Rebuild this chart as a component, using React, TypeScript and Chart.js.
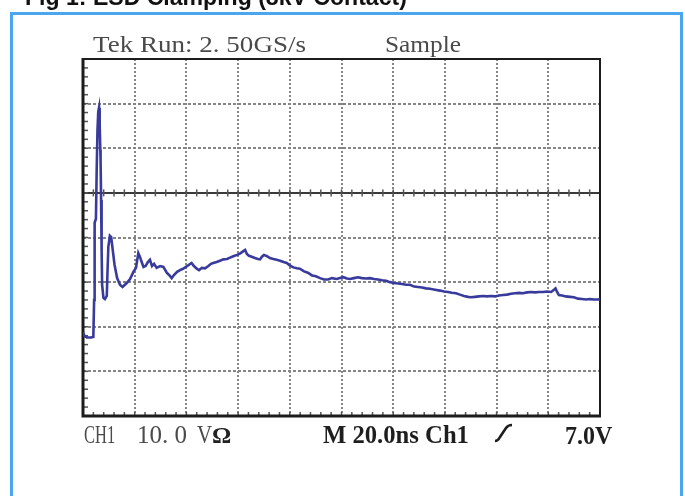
import React, { useEffect, useLayoutEffect, useRef } from 'react';
import { Chart, registerables } from 'chart.js';

Chart.register(...registerables);

// ---- data (time in ns, voltage in V; 20 ns/div, 10 V/div) ----
const timeNs = [
  0, 0.6, 1.5, 3.1, 4.0, 4.3, 4.4, 4.6, 5.0, 5.3, 5.6, 5.9, 6.2, 6.4, 6.5, 6.7, 6.8, 7.0, 7.2, 7.4,
  7.9, 8.5, 9.2, 9.5, 9.8, 10.4, 10.9, 11.4, 12.2, 13.2, 14.3, 15.3, 16.9, 18.2, 19.5, 20.5, 21.4,
  22.0, 22.7, 23.4, 24.2, 25.1, 25.9, 26.7, 27.5, 28.5, 29.8, 31.1, 32.4, 33.3, 34.3, 35.2, 36.4,
  37.5, 38.7, 39.8, 41.0, 42.0, 42.9, 44.0, 44.9, 46.0, 47.2, 48.5, 49.5, 50.4, 51.7, 53.0, 54.3,
  55.7, 56.9, 58.1, 59.6, 60.7, 61.9, 62.7, 63.4, 64.2, 65.3, 66.5, 67.7, 68.5, 69.2, 70.0, 71.2,
  72.3, 73.6, 74.9, 76.2, 77.6, 78.8, 80.1, 81.4, 82.7, 83.9, 85.5, 87.0, 88.6, 90.1, 91.7, 93.2,
  94.8, 96.3, 98.1, 99.4, 100.7, 102.1, 103.3, 104.8, 106.4, 107.9, 109.5, 111.0, 112.6, 114.1,
  115.7, 117.2, 118.8, 120.3, 121.9, 123.4, 125.0, 126.5, 128.1, 129.6, 131.1, 132.7, 134.2, 136.2,
  138.1, 139.7, 141.2, 142.7, 144.3, 145.8, 147.4, 148.9, 150.1, 151.6, 153.2, 154.7, 156.3, 157.8,
  159.4, 160.9, 162.5, 164.0, 165.6, 167.1, 168.7, 170.2, 171.8, 173.3, 174.9, 176.4, 178.0, 179.5,
  181.1, 182.2, 182.8, 183.4, 184.1, 185.3, 186.8, 188.4, 189.9, 191.5, 193.0, 194.6, 196.1, 197.7,
  199.2, 200,
];
const voltsV = [
  -31.2, -32.1, -32.4, -32.4, -32.3, -24.0, -10.5, -6.7, -5.8, 5.2, 14.1, 18.2, 19.1, 17.9, 15.2, 9.6,
  7.4, -1.6, -12.8, -20.6, -23.5, -23.8, -23.1, -17.3, -12.1, -9.6, -9.9, -12.3, -16.1, -19.1, -20.6,
  -21.1, -20.2, -19.3, -17.7, -16.8, -13.5, -14.3, -15.5, -16.6, -16.4, -15.5, -15.0, -16.4, -15.9,
  -16.8, -16.4, -16.6, -17.9, -18.4, -19.1, -18.4, -17.7, -17.3, -17.0, -16.6, -16.1, -15.7, -16.4,
  -17.0, -17.3, -16.8, -16.9, -16.4, -15.9, -15.7, -15.5, -15.2, -14.9, -14.8, -14.5, -14.2, -13.9,
  -13.6, -13.1, -12.8, -13.7, -14.1, -14.3, -14.6, -14.8, -14.9, -14.3, -13.9, -14.2, -14.6, -14.8,
  -15.0, -15.2, -15.5, -15.7, -16.3, -16.7, -16.9, -17.0, -17.6, -17.9, -18.5, -18.7, -19.1, -19.4,
  -19.4, -19.1, -19.3, -19.1, -18.9, -19.2, -19.3, -19.1, -18.9, -19.1, -19.2, -19.1, -19.3, -19.4,
  -19.6, -19.7, -20.0, -20.2, -20.3, -20.4, -20.6, -20.6, -21.0, -21.1, -21.2, -21.4, -21.5, -21.7,
  -21.9, -22.1, -22.2, -22.4, -22.5, -22.8, -23.1, -23.3, -23.4, -23.3, -23.2, -23.1, -23.2, -23.1,
  -23.2, -23.0, -22.9, -22.8, -22.6, -22.5, -22.4, -22.5, -22.3, -22.2, -22.3, -22.2, -22.2, -22.1,
  -22.2, -21.7, -21.4, -22.2, -22.9, -23.0, -23.2, -23.3, -23.4, -23.7, -23.8, -23.9, -23.8, -23.9,
  -23.9, -23.8,
];

const xMin = 0;
const xMax = 200;
const xStep = 20;
const yMin = -50;
const yMax = 30;
const yStep = 10;

const titleText = 'Fig 1: ESD Clamping (8kV Contact)';
const headerLeft = 'Tek Run: 2. 50GS/s';
const headerRight = 'Sample';
const footerCh = 'CH1';
const footerScale = '10. 0';
const footerUnitV = 'V';
const footerUnitOhm = 'Ω';
const footerTime = 'M 20.0ns Ch1';
const footerTrig = '7.0V';

const SERIF = '"Liberation Serif", "Times New Roman", serif';
const SANS = '"Liberation Sans", Arial, sans-serif';

type FitProps = {
  text: string;
  left: number;
  right: number;
  baseline: number;
  size: number;
  family: string;
  weight?: number | string;
  color: string;
  asc: number;
};

function FitText({ text, left, right, baseline, size, family, weight, color, asc }: FitProps) {
  const ref = useRef<HTMLSpanElement>(null);
  useLayoutEffect(() => {
    const el = ref.current;
    if (!el) return;
    const w = el.offsetWidth;
    if (w > 0) el.style.transform = `scaleX(${(right - left) / w})`;
  }, [text, left, right, size]);
  return (
    <span
      ref={ref}
      style={{
        position: 'absolute',
        left,
        top: baseline - asc * size,
        fontSize: size,
        lineHeight: `${size}px`,
        fontFamily: family,
        fontWeight: weight ?? 'normal',
        color,
        whiteSpace: 'pre',
        display: 'inline-block',
        transformOrigin: '0 0',
      }}
    >
      {text}
    </span>
  );
}

const SERIF_ASC = 0.8375;
const SANS_ASC = 0.8465;

const scopePlugin = {
  id: 'scopeDecor',
  beforeDatasetsDraw(chart: any) {
    const { ctx, chartArea, scales } = chart;
    const { left, right, top, bottom } = chartArea;
    const xs = scales.x;
    const ys = scales.y;
    ctx.save();
    // reference (0 V) line
    const y0 = ys.getPixelForValue(0);
    ctx.strokeStyle = '#3a3a3a';
    ctx.lineWidth = 2;
    ctx.beginPath();
    ctx.moveTo(left, y0);
    ctx.lineTo(right, y0);
    ctx.stroke();
    // minor ticks on reference line and bottom border
    ctx.lineWidth = 1.5;
    ctx.strokeStyle = '#555';
    for (let t = xMin; t <= xMax; t += xStep / 5) {
      const px = xs.getPixelForValue(t);
      ctx.beginPath();
      ctx.moveTo(px, y0 - 3.5);
      ctx.lineTo(px, y0 + 3.5);
      ctx.stroke();
      ctx.beginPath();
      ctx.moveTo(px, bottom);
      ctx.lineTo(px, bottom - 4);
      ctx.stroke();
    }
    // minor ticks on left border
    for (let v = yMin; v <= yMax; v += yStep / 5) {
      const py = ys.getPixelForValue(v);
      ctx.beginPath();
      ctx.moveTo(left, py);
      ctx.lineTo(left + 5, py);
      ctx.stroke();
    }
    // frame
    ctx.strokeStyle = '#1c1c1c';
    ctx.lineWidth = 2;
    ctx.beginPath();
    ctx.moveTo(left, top);
    ctx.lineTo(right, top);
    ctx.lineTo(right, bottom);
    ctx.stroke();
    ctx.lineWidth = 3;
    ctx.beginPath();
    ctx.moveTo(left, top - 1);
    ctx.lineTo(left, bottom);
    ctx.lineTo(right + 1, bottom);
    ctx.stroke();
    ctx.restore();
  },
};

function gridColor(c: any) {
  const v = c.tick ? c.tick.value : null;
  if (v === null) return '#8a8a8a';
  if (c.scale.axis === 'x' && (v === xMin || v === xMax)) return 'rgba(0,0,0,0)';
  if (c.scale.axis === 'y' && (v === yMin || v === yMax || v === 0)) return 'rgba(0,0,0,0)';
  return '#858585';
}

export default function App() {
  const canvasRef = useRef<HTMLCanvasElement>(null);

  useEffect(() => {
    const canvas = canvasRef.current;
    if (!canvas) return;
    const points = timeNs.map((t, i) => ({ x: t, y: voltsV[i] }));
    const chart = new Chart(canvas, {
      type: 'line',
      data: {
        datasets: [
          {
            data: points,
            borderColor: '#383b9c',
            borderWidth: 2.6,
            pointRadius: 0,
            tension: 0,
            fill: false,
          },
        ],
      },
      options: {
        animation: false,
        responsive: false,
        maintainAspectRatio: false,
        devicePixelRatio: 1,
        events: [],
        layout: { padding: { left: 83, top: 59, right: 85, bottom: 80 } },
        plugins: { legend: { display: false }, tooltip: { enabled: false }, title: { display: false } },
        scales: {
          x: {
            type: 'linear',
            min: xMin,
            max: xMax,
            ticks: { display: false, stepSize: xStep },
            grid: { color: gridColor, lineWidth: 2, drawTicks: false },
            border: { display: false, dash: [2, 2] },
          },
          y: {
            type: 'linear',
            min: yMin,
            max: yMax,
            ticks: { display: false, stepSize: yStep },
            grid: { color: gridColor, lineWidth: 2, drawTicks: false },
            border: { display: false, dash: [3, 2] },
          },
        },
      },
      plugins: [scopePlugin],
    } as any);
    return () => chart.destroy();
  }, []);

  return (
    <div
      style={{
        position: 'fixed',
        left: 0,
        top: 0,
        width: 685,
        height: 496,
        background: '#ffffff',
        overflow: 'hidden',
      }}
    >
      <div
        style={{
          position: 'absolute',
          left: 10,
          top: 12,
          width: 673,
          height: 520,
          border: '3px solid #4aa6ef',
          boxSizing: 'border-box',
        }}
      />
      <canvas
        ref={canvasRef}
        width={685}
        height={496}
        style={{ position: 'absolute', left: 0, top: 0, width: 685, height: 496 }}
      />
      <FitText text={titleText} left={25} right={407} baseline={5} size={23} family={SANS} weight="bold" color="#111" asc={SANS_ASC} />
      <FitText text={headerLeft} left={93} right={306} baseline={52} size={24} family={SERIF} color="#4a4a4a" asc={SERIF_ASC} />
      <FitText text={headerRight} left={385} right={461} baseline={52} size={24} family={SERIF} color="#4a4a4a" asc={SERIF_ASC} />
      <FitText text={footerCh} left={84} right={115} baseline={443} size={25} family={SERIF} color="#4a4a4a" asc={SERIF_ASC} />
      <FitText text={footerScale} left={137} right={187} baseline={443} size={25} family={SERIF} color="#4a4a4a" asc={SERIF_ASC} />
      <FitText text={footerUnitV} left={197} right={212} baseline={443} size={25} family={SERIF} color="#4a4a4a" asc={SERIF_ASC} />
      <FitText text={footerUnitOhm} left={212} right={231} baseline={443} size={24} family={SERIF} weight="bold" color="#222" asc={SERIF_ASC} />
      <FitText text={footerTime} left={323} right={469} baseline={443} size={25} family={SERIF} weight="bold" color="#1e1e1e" asc={SERIF_ASC} />
      <svg
        width={30}
        height={24}
        style={{ position: 'absolute', left: 492, top: 422 }}
      >
        <path d="M3 19 Q6 19 8 15 L14 6 Q16 3 20 3" stroke="#1e1e1e" strokeWidth={2.6} fill="none" />
      </svg>
      <FitText text={footerTrig} left={565} right={612} baseline={444} size={25} family={SERIF} weight="bold" color="#1e1e1e" asc={SERIF_ASC} />
    </div>
  );
}
